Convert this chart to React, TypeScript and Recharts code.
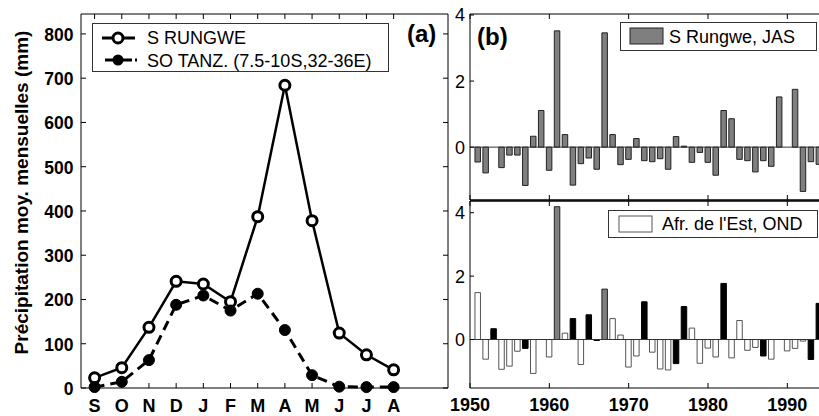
import React from "react";
import {
  LineChart,
  Line,
  ComposedChart,
  Bar,
  Cell,
  XAxis,
  YAxis,
  Legend,
  ReferenceLine,
} from "recharts";

const FONT = '"Liberation Sans", Arial, Helvetica, sans-serif';

// panel (a) : pluie moyenne mensuelle
const months = ["S", "O", "N", "D", "J", "F", "M", "A", "M", "J", "J", "A"];
const monthPos = [1, 2, 3, 4, 5, 6, 7, 8, 9, 10, 11, 12];
const rungwe = [23, 46, 137, 241, 235, 195, 387, 684, 378, 124, 75, 41];
const soTanz = [2, 14, 63, 188, 209, 175, 213, 131, 29, 3, 2, 2];
const mmTicks = [0, 100, 200, 300, 400, 500, 600, 700, 800];

// panel (b) : anomalies standardisées
const years = [
  1951, 1952, 1953, 1954, 1955, 1956, 1957, 1958, 1959, 1960,
  1961, 1962, 1963, 1964, 1965, 1966, 1967, 1968, 1969, 1970,
  1971, 1972, 1973, 1974, 1975, 1976, 1977, 1978, 1979, 1980,
  1981, 1982, 1983, 1984, 1985, 1986, 1987, 1988, 1989, 1990,
  1991, 1992, 1993, 1994,
];
const jasRungwe = [
  -0.45, -0.78, 0, -0.62, -0.24, -0.24, -1.16, 0.33, 1.11, -0.7,
  3.52, 0.38, -1.15, -0.5, -0.33, -0.67, 3.46, 0.38, -0.53, -0.37,
  0.26, -0.41, -0.44, -0.35, -0.67, 0.32, 0.03, -0.46, -0.16, -0.46,
  -0.85, 1.11, 0.86, -0.37, -0.41, -0.75, -0.41, -0.58, 1.52, 0,
  1.75, -1.34, -0.44, -0.52,
];
const ondEast = [
  1.48, -0.62, 0.34, -0.94, -0.84, -0.37, -0.28, -1.07, 0, -0.55,
  4.19, 0.2, 0.66, -0.79, 0.78, -0.03, 1.59, 0.66, 0.14, -0.87,
  -0.52, 1.19, -0.4, -0.93, -0.96, -0.76, 1.04, 0.36, -0.75, -0.27,
  -0.55, 1.77, -0.58, 0.6, -0.34, -0.25, -0.52, -0.62, 0, -0.36,
  -0.28, -0.05, -0.63, 1.14,
];
// w = blanc, k = noir, g = gris
const ondKind = [
  "w", "w", "k", "w", "w", "w", "k", "w", "w", "w",
  "g", "w", "k", "w", "k", "k", "g", "w", "w", "w",
  "w", "k", "w", "w", "w", "k", "k", "w", "w", "w",
  "w", "k", "w", "w", "w", "w", "k", "w", "w", "w",
  "w", "w", "k", "k",
];
const decades = [1950, 1960, 1970, 1980, 1990];
const anomTicks = [0, 2, 4];

const kindFill: Record<string, string> = { w: "#ffffff", k: "#000000", g: "#7f7f7f" };
const kindStroke: Record<string, string> = { w: "#555555", k: "#000000", g: "#222222" };

const dataA = months.map((m, i) => ({
  m: monthPos[i],
  rungwe: rungwe[i],
  tanz: soTanz[i],
}));
const dataJ = years.map((y, i) => ({ year: y, v: jasRungwe[i] }));
const dataO = years.map((y, i) => ({ year: y, v: ondEast[i] }));

// ticks drawn inward, as in the original figure
const MmTick = (p: any) => (
  <g>
    <line x1={p.x} y1={p.y} x2={p.x + 5} y2={p.y} stroke="#000" />
    <text x={p.x - 7.5} y={p.y + 7} textAnchor="end" fontSize={17.5} fontWeight="bold" fontFamily={FONT} fill="#000">
      {p.payload.value}
    </text>
  </g>
);
const RightInTick = (p: any) => <line x1={p.x} y1={p.y} x2={p.x - 5} y2={p.y} stroke="#000" />;
const TopInTick = (p: any) => <line x1={p.x} y1={p.y} x2={p.x} y2={p.y + 5} stroke="#000" />;
const BottomInTick = (p: any) => <line x1={p.x} y1={p.y} x2={p.x} y2={p.y - 5} stroke="#000" />;
const MonthTick = (p: any) => (
  <g>
    <line x1={p.x} y1={p.y} x2={p.x} y2={p.y - 5} stroke="#000" />
    <text x={p.x} y={p.y + 24} textAnchor="middle" fontSize={18} fontWeight="bold" fontFamily={FONT} fill="#000">
      {months[p.payload.value - 1]}
    </text>
  </g>
);
const AnomTick = (p: any) => (
  <g>
    <line x1={p.x} y1={p.y} x2={p.x + 4} y2={p.y} stroke="#000" />
    <text x={p.x - 5} y={p.y + 6.5} textAnchor="end" fontSize={18} fontFamily={FONT} fill="#000">
      {p.payload.value}
    </text>
  </g>
);
const YearTick = (p: any) => (
  <g>
    <line x1={p.x} y1={p.y} x2={p.x} y2={p.y - 5} stroke="#000" />
    <text x={p.x} y={p.y + 23} textAnchor="middle" fontSize={18} fontWeight="bold" fontFamily={FONT} fill="#000">
      {p.payload.value}
    </text>
  </g>
);

const boxStyle: React.CSSProperties = {
  border: "1px solid #333",
  boxSizing: "border-box",
  background: "#fff",
};

const LegendA = () => (
  <div style={{ ...boxStyle, width: 297, height: 49 }}>
    <svg width={295} height={47} style={{ display: "block" }}>
      <line x1={9} y1={14} x2={42} y2={14} stroke="#000" strokeWidth={3} />
      <circle cx={25} cy={14} r={5} fill="#fff" stroke="#000" strokeWidth={3} />
      <text x={54} y={20} fontSize={18} fontFamily={FONT} fill="#000">S RUNGWE</text>
      <line x1={12} y1={36} x2={44} y2={36} stroke="#000" strokeWidth={3} strokeDasharray="27 3 3" />
      <circle cx={25} cy={36} r={5.5} fill="#000" />
      <text x={54} y={42.5} fontSize={18} fontFamily={FONT} fill="#000">SO TANZ. (7.5-10S,32-36E)</text>
    </svg>
  </div>
);

const LegendJ = () => (
  <div style={{ ...boxStyle, width: 197, height: 29 }}>
    <svg width={195} height={27} style={{ display: "block" }}>
      <rect x={9} y={5} width={33} height={16} fill="#7f7f7f" stroke="#222" />
      <text x={48} y={20} fontSize={18} fontFamily={FONT} fill="#000">S Rungwe, JAS</text>
    </svg>
  </div>
);

const LegendO = () => (
  <div style={{ ...boxStyle, width: 210, height: 28 }}>
    <svg width={208} height={26} style={{ display: "block" }}>
      <rect x={10} y={5} width={33} height={16} fill="#fff" stroke="#555" />
      <text x={53} y={19} fontSize={18} fontFamily={FONT} fill="#000">Afr. de l'Est, OND</text>
    </svg>
  </div>
);

const yearAxisProps = {
  dataKey: "year",
  type: "number" as const,
  domain: [1950, 1995],
  ticks: decades,
  interval: 0 as const,
  tickSize: 0,
  tickMargin: 0,
  tickLine: false,
};

export default function App() {
  return (
    <div
      style={{
        position: "absolute",
        left: 0,
        top: 0,
        width: 819,
        height: 416,
        background: "#fff",
        overflow: "hidden",
        fontFamily: FONT,
      }}
    >
      <div style={{ position: "absolute", left: 0, top: 0 }}>
        <LineChart width={460} height={416} data={dataA} margin={{ top: 13, right: 11, bottom: 0, left: 0 }}>
          <XAxis
            dataKey="m"
            type="number"
            domain={[0.5, 14]}
            ticks={monthPos}
            interval={0}
            height={28}
            tickSize={0}
            tickMargin={0}
            tickLine={false}
            axisLine={{ stroke: "#000" }}
            tick={MonthTick}
          />
          <XAxis
            xAxisId="t"
            orientation="top"
            dataKey="m"
            type="number"
            domain={[0.5, 14]}
            ticks={monthPos}
            interval={0}
            height={1}
            tickSize={0}
            tickMargin={0}
            tickLine={false}
            axisLine={{ stroke: "#000" }}
            tick={TopInTick}
          />
          <YAxis
            type="number"
            domain={[0, 845]}
            ticks={mmTicks}
            interval={0}
            width={81}
            tickSize={0}
            tickMargin={0}
            tickLine={false}
            axisLine={{ stroke: "#000" }}
            tick={MmTick}
          />
          <YAxis
            yAxisId="r"
            orientation="right"
            type="number"
            domain={[0, 845]}
            ticks={mmTicks}
            interval={0}
            width={1}
            tickSize={0}
            tickMargin={0}
            tickLine={false}
            axisLine={{ stroke: "#000" }}
            tick={RightInTick}
          />
          {/* invisible series so the mirrored top/right frame axes are drawn */}
          <Line
            xAxisId="t"
            yAxisId="r"
            dataKey="rungwe"
            stroke="none"
            dot={false}
            activeDot={false}
            legendType="none"
            isAnimationActive={false}
          />
          <Line
            dataKey="rungwe"
            stroke="#000"
            strokeWidth={2.5}
            dot={{ r: 5, fill: "#fff", stroke: "#000", strokeWidth: 3 }}
            isAnimationActive={false}
          />
          <Line
            dataKey="tanz"
            stroke="#000"
            strokeWidth={3}
            strokeDasharray="10 6"
            dot={{ r: 5.5, fill: "#000", stroke: "#000", strokeWidth: 1, strokeDasharray: "none" }}
            isAnimationActive={false}
          />
          <Legend
            layout="horizontal"
            verticalAlign="middle"
            align="center"
            content={LegendA}
            wrapperStyle={{ left: 92, top: 23, width: 297, height: 49 }}
          />
        </LineChart>
      </div>

      <div style={{ position: "absolute", left: 440, top: 0 }}>
        <ComposedChart width={387} height={201} data={dataJ} barSize={5.5} margin={{ top: 13, right: 0, bottom: 0, left: 0 }}>
          <XAxis {...yearAxisProps} height={1} axisLine={{ stroke: "#000", strokeWidth: 1.5 }} tick={BottomInTick} />
          <XAxis {...yearAxisProps} xAxisId="t" orientation="top" height={1} axisLine={{ stroke: "#000" }} tick={TopInTick} />
          <YAxis
            type="number"
            domain={[-1.6, 4.03]}
            ticks={anomTicks}
            interval={0}
            width={30}
            tickSize={0}
            tickMargin={0}
            tickLine={false}
            axisLine={{ stroke: "#000" }}
            tick={AnomTick}
          />
          <ReferenceLine y={0} stroke="#333" />
          <Bar dataKey="v" fill="#7f7f7f" stroke="#222" strokeWidth={1} isAnimationActive={false} />
          <Line xAxisId="t" dataKey="v" stroke="none" dot={false} activeDot={false} legendType="none" isAnimationActive={false} />
          <Legend
            layout="horizontal"
            verticalAlign="middle"
            align="center"
            content={LegendJ}
            wrapperStyle={{ left: 180, top: 22, width: 197, height: 29 }}
          />
        </ComposedChart>
      </div>

      <div style={{ position: "absolute", left: 440, top: 200 }}>
        <ComposedChart width={387} height={216} data={dataO} barSize={5.5} margin={{ top: 0, right: 0, bottom: 0, left: 0 }}>
          <XAxis {...yearAxisProps} height={28} axisLine={{ stroke: "#000" }} tick={YearTick} />
          <XAxis {...yearAxisProps} xAxisId="t" orientation="top" height={1} axisLine={{ stroke: "#000", strokeWidth: 1.5 }} tick={TopInTick} />
          <YAxis
            type="number"
            domain={[-1.53, 4.37]}
            ticks={anomTicks}
            interval={0}
            width={30}
            tickSize={0}
            tickMargin={0}
            tickLine={false}
            axisLine={{ stroke: "#000" }}
            tick={AnomTick}
          />
          <ReferenceLine y={0} stroke="#333" />
          <Bar dataKey="v" strokeWidth={1} isAnimationActive={false}>
            {ondKind.map((k, i) => (
              <Cell key={i} fill={kindFill[k]} stroke={kindStroke[k]} />
            ))}
          </Bar>
          <Line xAxisId="t" dataKey="v" stroke="none" dot={false} activeDot={false} legendType="none" isAnimationActive={false} />
          <Legend
            layout="horizontal"
            verticalAlign="middle"
            align="center"
            content={LegendO}
            wrapperStyle={{ left: 168, top: 10, width: 210, height: 28 }}
          />
        </ComposedChart>
      </div>

      <svg
        width={819}
        height={416}
        style={{ position: "absolute", left: 0, top: 0, pointerEvents: "none" }}
      >
        <text
          transform="translate(28,192.5) rotate(-90)"
          textAnchor="middle"
          fontSize={19}
          fontWeight="bold"
          fontFamily={FONT}
          fill="#000"
        >
          Précipitation moy. mensuelles (mm)
        </text>
        <text x={407} y={42} fontSize={24} fontWeight="bold" fontFamily={FONT} fill="#000">(a)</text>
        <text x={477} y={45} fontSize={24} fontWeight="bold" fontFamily={FONT} fill="#000">(b)</text>
      </svg>
    </div>
  );
}
